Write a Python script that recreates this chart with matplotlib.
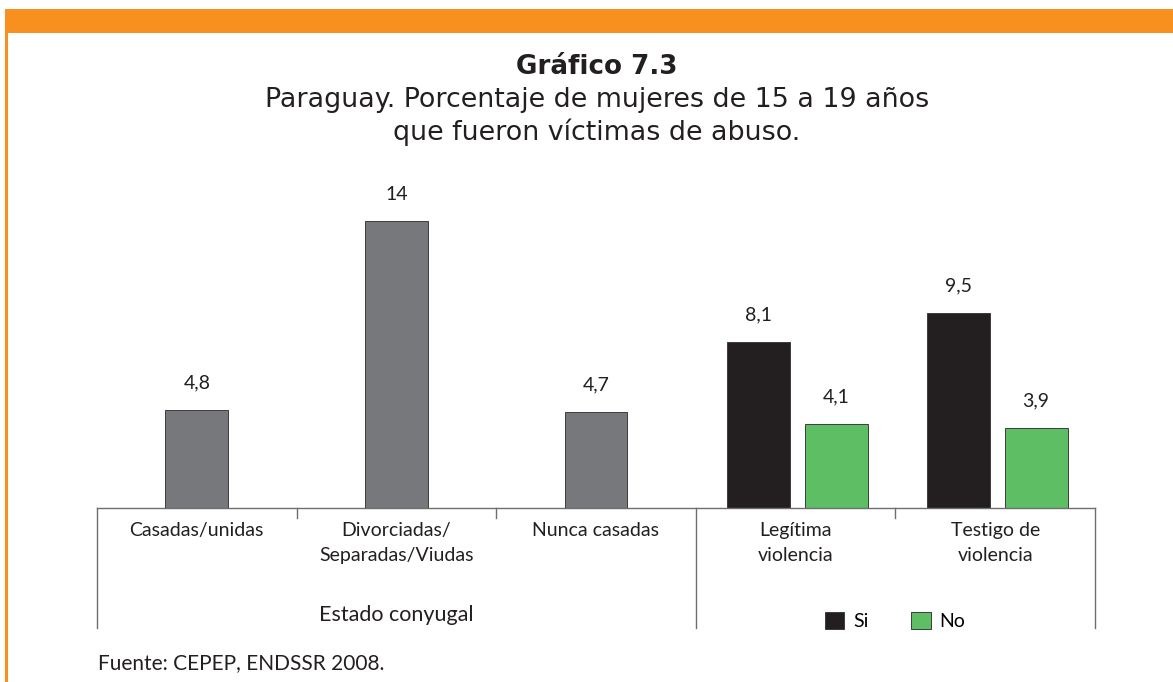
import matplotlib
matplotlib.use("Agg")
import matplotlib.pyplot as plt
from matplotlib.patches import Rectangle, Patch
import matplotlib.transforms as mtransforms

# ---- data ----
estado_labels = ["Casadas/unidas", "Divorciadas/\nSeparadas/Viudas", "Nunca casadas"]
estado_values = [4.8, 14, 4.7]
violencia_labels = ["Legítima\nviolencia", "Testigo de\nviolencia"]
si_values = [8.1, 9.5]
no_values = [4.1, 3.9]
value_text_estado = ["4,8", "14", "4,7"]
value_text_si = ["8,1", "9,5"]
value_text_no = ["4,1", "3,9"]
group_labels = ["Estado conyugal"]
legend_labels = ["Si", "No"]

W, H = 1173, 682
fig = plt.figure(figsize=(W / 100, H / 100), dpi=100)
fig.patch.set_facecolor("white")

ORANGE = "#f7901e"
GRAY = "#77787b"
BLACK = "#231f20"
GREEN = "#5dbe63"
TXT = "#231f20"
LINE = "#6d6e70"
LFONT = ["Lato", "DejaVu Sans"]

def px(x, y):
    return x / W, 1 - y / H

# orange frame
fig.add_artist(Rectangle(px(5, 33), (W - 5) / W, 24 / H, transform=fig.transFigure,
                         facecolor=ORANGE, edgecolor="none"))
fig.add_artist(Rectangle(px(5, 682), 2.5 / W, (682 - 9) / H, transform=fig.transFigure,
                         facecolor=ORANGE, edgecolor="none"))

# title
fig.text(*px(597, 67), "Gráfico 7.3", ha="center", va="center", fontsize=18.8,
         fontweight="bold", color=TXT, family="DejaVu Sans")
fig.text(*px(597, 100), "Paraguay. Porcentaje de mujeres de 15 a 19 años",
         ha="center", va="center", fontsize=19.4, color=TXT, family="DejaVu Sans")
fig.text(*px(597, 132), "que fueron víctimas de abuso.",
         ha="center", va="center", fontsize=19.4, color=TXT, family="DejaVu Sans")

# axes
x0, x1, yb, yt = 97, 1095, 508, 160
ax = fig.add_axes([x0 / W, 1 - yb / H, (x1 - x0) / W, (yb - yt) / H])
ax.set_xlim(-0.5, 4.5)
ax.set_ylim(0, 348 / 20.5)
ax.axis("off")

bw = 0.315
ekw = dict(edgecolor="#3c3c3c", linewidth=0.7)
ax.bar(range(3), estado_values, width=bw, color=GRAY, **ekw)
xs_si = [3 - 0.185, 4 - 0.185]
xs_no = [3 + 0.205, 4 + 0.205]
ax.bar(xs_si, si_values, width=bw, color=BLACK, **ekw)
ax.bar(xs_no, no_values, width=bw, color=GREEN, **ekw)

off = mtransforms.offset_copy(ax.transData, fig=fig, x=0, y=27 / 100 * 72, units="points")
for xs, vs, ts in [(range(3), estado_values, value_text_estado),
                   (xs_si, si_values, value_text_si),
                   (xs_no, no_values, value_text_no)]:
    for x, v, t in zip(xs, vs, ts):
        ax.text(x, v, t, transform=off, ha="center", va="center", fontsize=14,
                color=TXT, family=LFONT)

# baseline and separators
trans = ax.get_xaxis_transform()
axh = yb - yt
ax.plot([-0.5, 4.5], [0, 0], color=LINE, lw=1, transform=trans, clip_on=False)
for xb in [0.5, 1.5, 3.5]:
    ax.plot([xb, xb], [0, -10 / axh], color=LINE, lw=1, transform=trans, clip_on=False)
for xb in [-0.5, 2.5, 4.5]:
    ax.plot([xb, xb], [0, -120 / axh], color=LINE, lw=1, transform=trans, clip_on=False)

# category labels
cats = estado_labels + violencia_labels
for i, lab in enumerate(cats):
    ax.text(i, -14 / axh, lab, transform=trans, ha="center", va="top", fontsize=14,
            color=TXT, family=LFONT, linespacing=1.55)
ax.text(1, -107 / axh, group_labels[0], transform=trans, ha="center", va="center",
        fontsize=15.5, color=TXT, family=LFONT)

# legend
handles = [Patch(facecolor=BLACK, edgecolor="#3c3c3c", lw=0.7),
           Patch(facecolor=GREEN, edgecolor="#3c3c3c", lw=0.7)]
fig.legend(handles, legend_labels, loc="center", bbox_to_anchor=px(895, 621), ncol=2,
           frameon=False, handlelength=1.0, handleheight=1.0, handletextpad=0.45,
           columnspacing=2.2, prop={"family": LFONT, "size": 14})

fig.text(*px(98, 663), "Fuente: CEPEP, ENDSSR 2008.", ha="left", va="center",
         fontsize=15, color=TXT, family=LFONT)

fig.savefig("out.png", dpi=100, facecolor="white")
